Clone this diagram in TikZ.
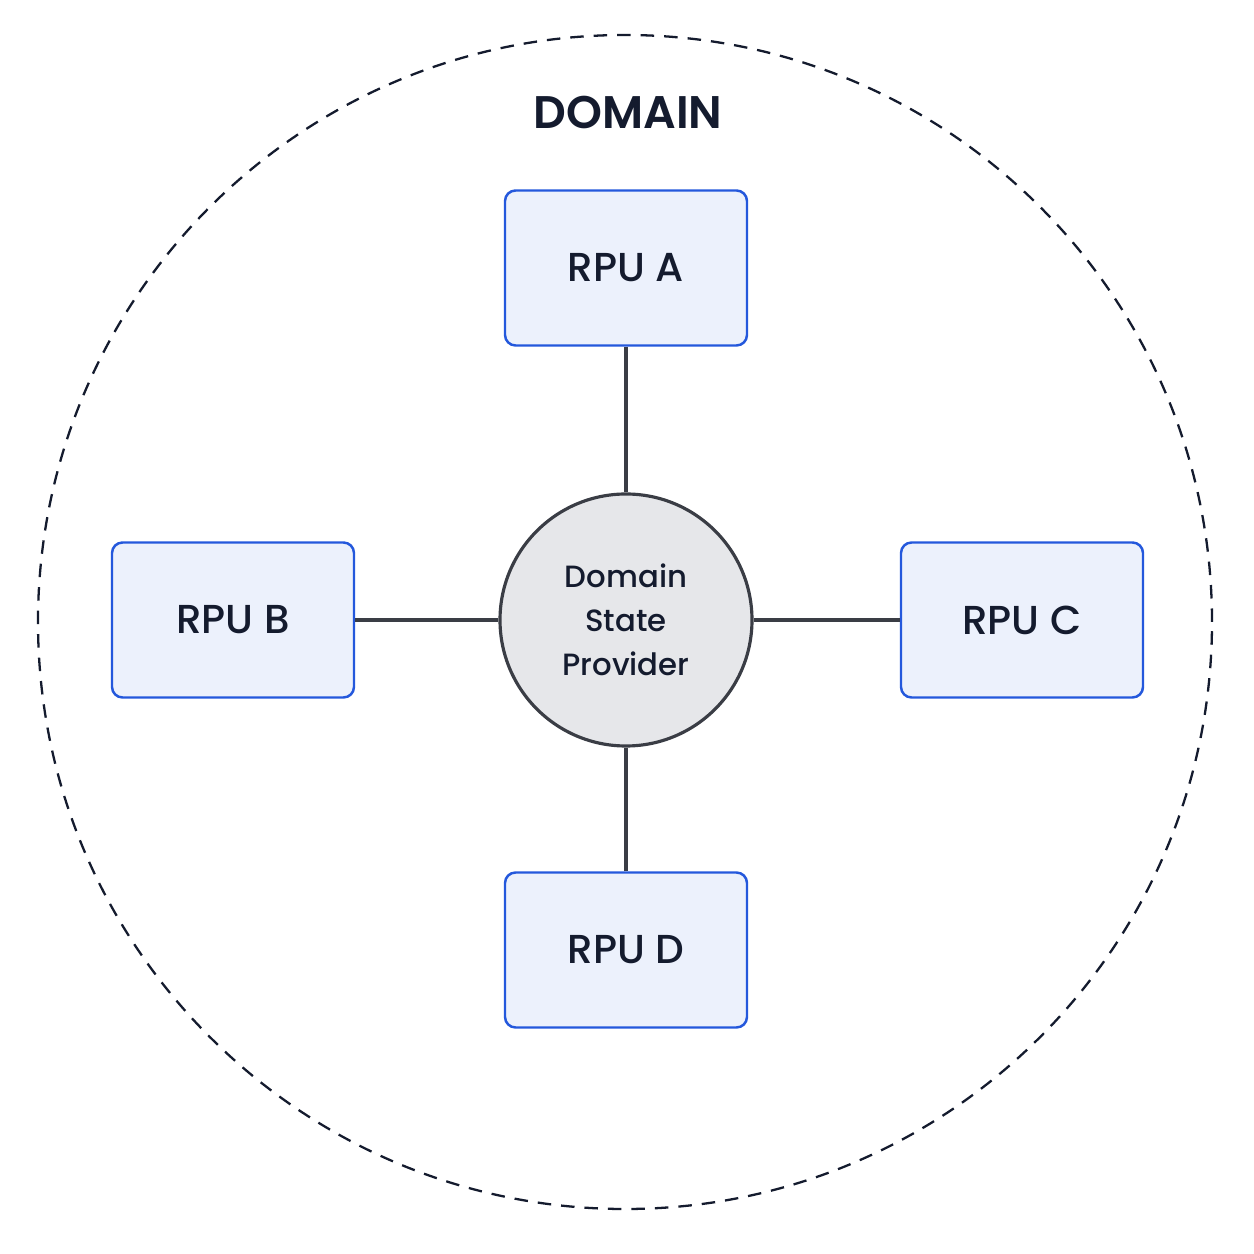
\documentclass[tikz,border=0pt]{standalone}
\usepackage{fontspec}
\setmainfont{Poppins}[UprightFont=* Medium, BoldFont=* SemiBold]
\usepackage{tikz}
\usetikzlibrary{positioning}
\definecolor{domNavy}{HTML}{141B2E}
\definecolor{rpuBlue}{HTML}{2458DC}
\definecolor{rpuFill}{HTML}{ECF1FC}
\definecolor{hubGray}{HTML}{E6E7EA}
\definecolor{hubEdge}{HTML}{3A3D45}

\begin{document}
\begin{tikzpicture}[
  rpu/.style={rectangle, rounded corners=6pt, draw=rpuBlue, fill=rpuFill, line width=1.4pt,
              minimum width=4.84cm, minimum height=3.1cm, align=center,
              font=\fontsize{23}{27}\selectfont, text=domNavy},
  hub/.style={circle, draw=hubEdge, fill=hubGray, line width=1.8pt, minimum size=5.04cm,
              align=center, font=\fontsize{17.5}{25}\selectfont, text=domNavy},
  e/.style={draw=hubEdge, line width=1.8pt},
  dom/.style={draw=domNavy, line width=1.3pt, dash pattern=on 0.27cm off 0.2cm}
]
\useasboundingbox (0,0) rectangle (25.08,25.08);
\fill[white] (0,0) rectangle (25.08,25.08);

% domain boundary
\coordinate (dc) at (12.5,12.64);
\draw[dom] (dc) circle (11.74cm);
\node[font=\fontsize{26}{30}\selectfont\bfseries, text=domNavy] (title) at (12.56,22.84) {DOMAIN};

% provider and units
\node[hub] (dsp) at (12.52,12.68) {Domain\\State\\Provider};
\node[rpu] (ra) at (12.52,19.72) {RPU A};
\node[rpu] (rb) at (4.66,12.68) {RPU B};
\node[rpu] (rc) at (20.44,12.68) {RPU C};
\node[rpu] (rd) at (12.52,6.08) {RPU D};

\draw[e] (ra) -- (dsp);
\draw[e] (rb) -- (dsp);
\draw[e] (rc) -- (dsp);
\draw[e] (rd) -- (dsp);
\end{tikzpicture}
\end{document}
